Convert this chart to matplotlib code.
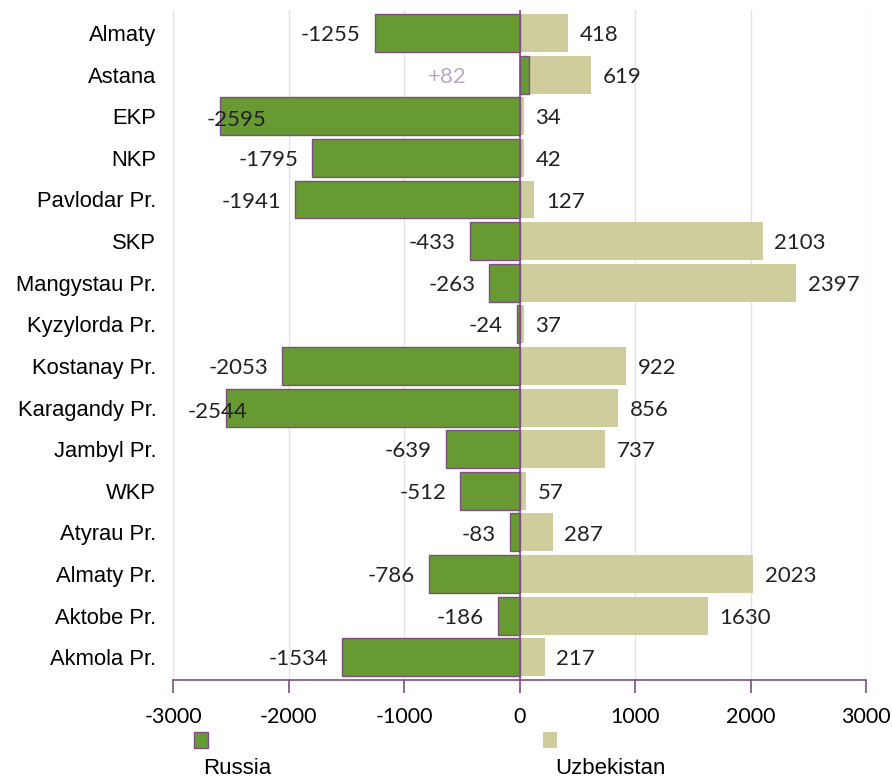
import matplotlib.pyplot as plt
import matplotlib.patches as mpatches
import numpy as np

# ── Data ──────────────────────────────────────────────────────────────────────
regions = ["Almaty", "Astana", "EKP", "NKP", "Pavlodar Pr.", "SKP", "Mangystau Pr.",
           "Kyzylorda Pr.", "Kostanay Pr.", "Karagandy Pr.", "Jambyl Pr.", "WKP",
           "Atyrau Pr.", "Almaty Pr.", "Aktobe Pr.", "Akmola Pr."]
russia = [-1255, 82, -2595, -1795, -1941, -433, -263, -24, -2053, -2544, -639,
          -512, -83, -786, -186, -1534]
uzbekistan = [418, 619, 34, 42, 127, 2103, 2397, 37, 922, 856, 737, 57, 287,
              2023, 1630, 217]
xticks = [-3000, -2000, -1000, 0, 1000, 2000, 3000]

GREEN  = "#679a33"
BEIGE  = "#cfcd9c"
PURPLE = "#7d4f82"
NUMFONT = "Lato"
CATFONT = "Liberation Sans"

# label x overrides for the labels that sit over their bars in the original
RU_LABEL_X = {"EKP": -2190, "Karagandy Pr.": -2360, "Astana": -630}

fig = plt.figure(figsize=(8.92, 7.8), dpi=100)
ax = fig.add_axes([0.194, 0.128, 0.777, 0.859])

y = np.arange(len(regions))
ax.barh(y, uzbekistan, height=0.91, color=BEIGE, edgecolor="none", zorder=3)
ax.barh(y, russia, height=0.91, color=GREEN, edgecolor=PURPLE, linewidth=1.0, zorder=3)

ax.set_xlim(-3000, 3000)
ax.set_ylim(len(regions) - 0.45, -0.55)
ax.set_xticks(xticks)
ax.set_xticklabels([str(t) for t in xticks], fontsize=15.5, family=NUMFONT)
ax.tick_params(axis="x", direction="out", length=9, color=PURPLE, width=1.2, pad=10)
ax.set_yticks(y)
ax.set_yticklabels(regions, fontsize=15.8, family=CATFONT)
ax.tick_params(axis="y", length=0, pad=12)

ax.grid(axis="x", color="#e4e4e4", linewidth=1, zorder=0)
for s in ("left", "top", "right"):
    ax.spines[s].set_visible(False)
ax.spines["bottom"].set_color(PURPLE)
ax.spines["bottom"].set_linewidth(1.2)
ax.axvline(0, color=PURPLE, linewidth=1.2, zorder=4)

# value labels
for yi, name, r, u in zip(y, regions, russia, uzbekistan):
    if name in RU_LABEL_X:
        if r > 0:
            ax.text(RU_LABEL_X[name], yi + 0.05, f"+{r}", ha="center", va="center",
                    fontsize=16, family=NUMFONT, color="#b9a9bd", zorder=5)
        else:
            ax.text(RU_LABEL_X[name], yi + 0.1, f"{r}", ha="right", va="center",
                    fontsize=16, family=NUMFONT, color="#222222", zorder=5)
    else:
        ax.text(r - 120, yi + 0.05, f"{r}", ha="right", va="center",
                fontsize=16, family=NUMFONT, color="#222222", zorder=5)
    ax.text(u + 100, yi + 0.05, f"{u}", ha="left", va="center",
            fontsize=16, family=NUMFONT, color="#222222", zorder=5)

# legend: squares with labels below
fig.patches.append(mpatches.Rectangle((194 / 892, 1 - 748 / 780), 14 / 892, 16 / 780,
                                      transform=fig.transFigure, facecolor=GREEN,
                                      edgecolor=PURPLE, linewidth=1))
fig.patches.append(mpatches.Rectangle((543 / 892, 1 - 748 / 780), 14 / 892, 16 / 780,
                                      transform=fig.transFigure, facecolor=BEIGE,
                                      edgecolor="none"))
fig.text(203 / 892, 1 - 768 / 780, "Russia", fontsize=16, family=CATFONT,
         ha="left", va="center")
fig.text(555 / 892, 1 - 768 / 780, "Uzbekistan", fontsize=16, family=CATFONT,
         ha="left", va="center")

fig.savefig("out.png", dpi=100, facecolor="white")
